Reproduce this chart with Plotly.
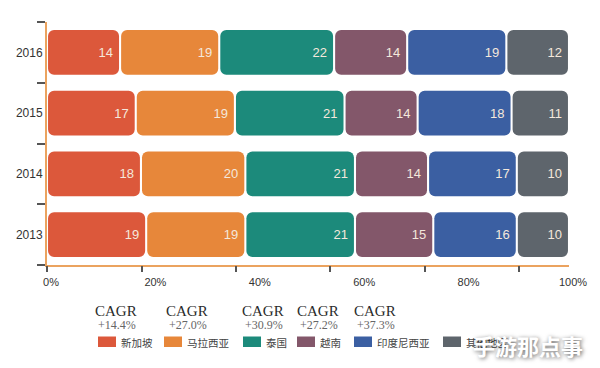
import plotly.graph_objects as go

years = ['2013', '2014', '2015', '2016']
series = ['新加坡', '马拉西亚', '泰国', '越南', '印度尼西亚', '其他地区']
sg = [19, 18, 17, 14]
my = [19, 20, 19, 19]
th = [21, 21, 21, 22]
vn = [15, 14, 14, 14]
idn = [16, 17, 18, 19]
other = [10, 10, 11, 12]
values = [sg, my, th, vn, idn, other]
cagr = ['+14.4%', '+27.0%', '+30.9%', '+27.2%', '+37.3%', None]
x_ticks = [0, 20, 40, 60, 80, 100]
x_tick_text = ['0%', '20%', '40%', '60%', '80%', '100%']

colors = ['#dc583b', '#e7873a', '#1c8a7b', '#83576a', '#3b5fa2', '#5e656c']

# layout geometry (pixels)
W, H = 600, 368
L, R, T, B = 47, 31, 22, 103
pw, ph = W - L - R, H - T - B


def px(x):
    return (x - L) / pw


def py(y):
    return (H - B - y) / ph


fig = go.Figure()
gap = 0.4
cum = [0] * len(years)
for name, vals, col in zip(series, values, colors):
    fig.add_trace(go.Bar(
        y=years, x=[v - gap for v in vals], base=[c + gap / 2 for c in cum],
        orientation='h', name=name,
        marker=dict(color=col, line=dict(width=0), cornerradius=6),
        text=[str(v) for v in vals], textposition='inside',
        insidetextanchor='end',
        textfont=dict(color='#f4e8dc', size=13, family='Liberation Sans, Arial'),
        showlegend=False))
    cum = [c + v for c, v in zip(cum, vals)]

# invisible trace for the secondary tick axis
fig.add_trace(go.Scatter(x=[0, 100], y=[years[0], years[0]], xaxis='x2',
                         mode='markers', marker=dict(opacity=0),
                         showlegend=False, hoverinfo='skip'))

annotations = []
shapes = []
sw_left = [98, 164, 243, 297, 354, 443]
txt_left = [119, 185, 264, 318, 375, 464]
cagr_cx = [116, 187, 262.5, 317.5, 375]
for i, name in enumerate(series):
    shapes.append(dict(type='rect', xref='paper', yref='paper',
                       x0=px(sw_left[i]), x1=px(sw_left[i] + 18),
                       y0=py(347), y1=py(336.5),
                       fillcolor=colors[i], line=dict(width=0)))
    annotations.append(dict(xref='paper', yref='paper', x=px(txt_left[i]), y=py(342),
                            text=name, showarrow=False, xanchor='left', yanchor='middle',
                            font=dict(family='Noto Sans CJK SC', size=10.5, color='#444444')))
    if cagr[i]:
        annotations.append(dict(xref='paper', yref='paper', x=px(cagr_cx[i]), y=py(311),
                                text='CAGR', showarrow=False, xanchor='center', yanchor='middle',
                                font=dict(family='Liberation Serif, Times New Roman', size=15,
                                          color='#2b2b2b')))
        annotations.append(dict(xref='paper', yref='paper', x=px(cagr_cx[i] + 1), y=py(324.5),
                                text=cagr[i], showarrow=False, xanchor='center', yanchor='middle',
                                font=dict(family='Liberation Serif, Times New Roman', size=12,
                                          color='#666666')))

annotations.append(dict(xref='paper', yref='paper', x=px(528), y=py(345),
                        text='手游那点事', showarrow=False, xanchor='center', yanchor='middle',
                        font=dict(family='Noto Sans CJK SC', size=22, color='#ffffff',
                                  weight='bold', shadow='1px 1px 4px rgba(0,0,0,0.6)')))

orange = '#eba35f'
fig.update_layout(
    width=W, height=H,
    margin=dict(l=L, r=R, t=T, b=B, autoexpand=False),
    barmode='overlay', bargap=0.26,
    plot_bgcolor='white', paper_bgcolor='white',
    showlegend=False,
    xaxis=dict(range=[0, 100], tickvals=x_ticks, ticktext=x_tick_text,
               ticks='outside', ticklen=6, tickcolor='rgba(0,0,0,0)',
               ticklabelshift=4,
               showgrid=False, zeroline=False, showline=True,
               linecolor=orange, linewidth=2, automargin=False,
               tickfont=dict(family='Liberation Sans, Arial', size=11, color='#333333'),
               fixedrange=True),
    xaxis2=dict(overlaying='x', matches='x', side='bottom', automargin=False,
                tickvals=[0, 18.2, 36.3, 54.3, 72.5, 90.4],
                ticks='outside', ticklen=6, tickwidth=1.5, tickcolor='#555555',
                showticklabels=False, showgrid=False, zeroline=False, showline=False),
    yaxis=dict(type='category', categoryorder='array', categoryarray=years,
               range=[-0.5, 3.5], tickson='boundaries', ticks='outside', ticklen=8,
               tickwidth=1.5, tickcolor='#555555', automargin=False,
               showgrid=False, zeroline=False, showline=True,
               linecolor=orange, linewidth=2,
               tickfont=dict(family='Liberation Sans, Arial', size=12, color='#333333')),
    annotations=annotations,
    shapes=shapes,
)

fig.write_html('out.html', config={'displayModeBar': False},
               post_script="document.body.style.margin='0';document.body.style.padding='0';")
